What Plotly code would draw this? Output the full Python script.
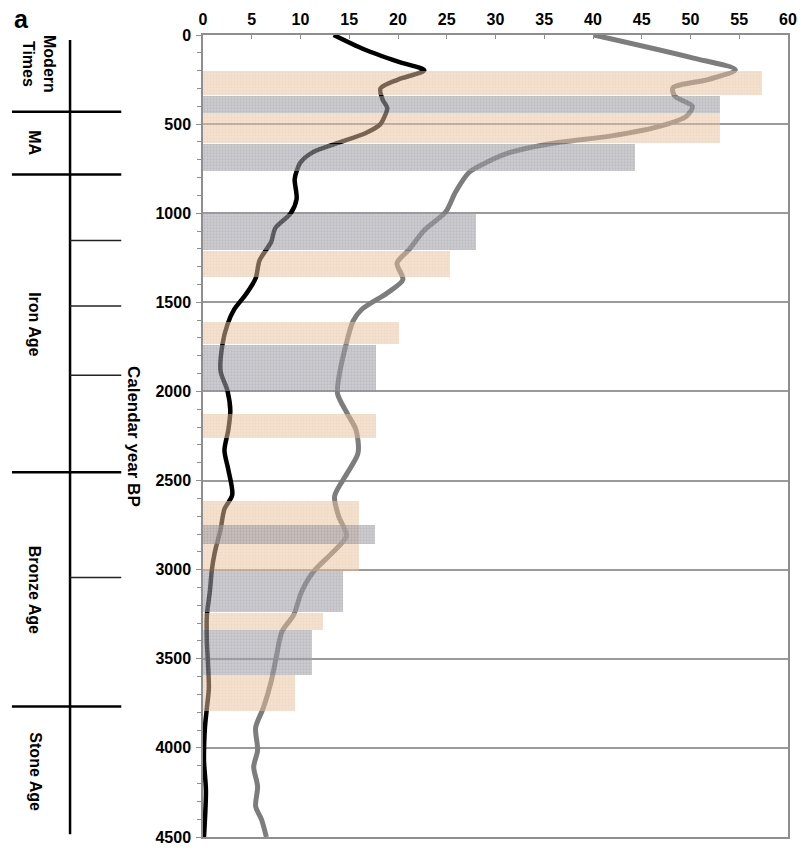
import plotly.graph_objects as go

# ---- data -------------------------------------------------------------
# black curve: value vs calendar year BP
black_years = [0, 80, 150, 198, 250, 300, 360, 410, 460, 500, 550, 610, 660, 715, 765,
               810, 920, 1000, 1085, 1160, 1265, 1365, 1455, 1540, 1625, 1735, 1885,
               1995, 2105, 2215, 2330, 2440, 2580, 2660, 2775, 2905, 3005, 3125, 3255,
               3405, 3515, 3665, 3775, 3885, 4070, 4240, 4500]
black_vals = [13.4, 16.5, 20.0, 22.7, 20.0, 18.2, 18.4, 18.9, 18.6, 18.2, 16.7, 13.6, 11.2,
              10.0, 9.6, 9.4, 9.6, 9.0, 7.4, 7.0, 5.8, 5.4, 4.4, 3.2, 2.5, 2.0, 1.8, 2.5,
              2.8, 2.6, 2.2, 2.6, 3.0, 2.2, 1.8, 1.2, 0.9, 0.7, 0.4, 0.4, 0.5, 0.6, 0.4,
              0.2, 0.1, 0.3, 0.1]

# grey curve: value vs calendar year BP
grey_years = [0, 128, 195, 250, 297, 344, 400, 455, 510, 566, 607, 659, 714, 770, 881, 992,
              1095, 1206, 1280, 1373, 1447, 1539, 1604, 1753, 1902, 2013, 2124, 2217, 2346,
              2458, 2587, 2699, 2810, 2903, 3013, 3125, 3254, 3347, 3495, 3625, 3774, 3885,
              4014, 4106, 4217, 4328, 4402, 4500]
grey_vals = [40.1, 50.2, 54.6, 51.8, 48.2, 48.4, 50.2, 49.6, 47.0, 41.9, 35.9, 31.5, 29.1,
             27.3, 25.9, 24.9, 22.7, 21.1, 19.9, 20.5, 18.9, 16.3, 15.4, 14.6, 14.0, 13.8,
             14.8, 15.7, 15.9, 14.8, 13.5, 13.9, 14.7, 13.3, 11.3, 10.1, 9.3, 8.1, 7.5, 7.0,
             6.2, 5.4, 5.6, 5.2, 5.6, 5.4, 6.0, 6.5]

# tan interval bars: start year, end year, value
tan_start = [200, 435, 1210, 1610, 2125, 2615, 3245, 3590]
tan_end = [335, 605, 1360, 1735, 2260, 3005, 3340, 3795]
tan_vals = [57.3, 53.0, 25.3, 20.1, 17.7, 16.0, 12.3, 9.4]

# grey interval bars: start year, end year, value
gry_start = [340, 610, 1005, 1740, 2750, 3005, 3340]
gry_end = [435, 765, 1205, 1995, 2855, 3240, 3590]
gry_vals = [53.0, 44.3, 28.0, 17.7, 17.6, 14.4, 11.2]

# archaeological periods
major_bounds = [430, 783, 2454, 3768]
minor_bounds = [1153, 1520, 1909, 3044]
period_names = ["Modern<br>Times", "MA", "Iron Age", "Bronze Age", "Stone Age"]
period_label_years = [160, 605, 1620, 3110, 4135]

x_ticks = list(range(0, 61, 5))
y_ticks = list(range(0, 4501, 500))

# ---- figure -------------------------------------------------------------
W, H = 806, 855
ML, MR, MT, MB = 203, 9, 35, 12
PW = W - ML - MR


def px_to_paper_x(px):
    return (px - ML) / PW


FONT = "Liberation Sans, Arial, sans-serif"
AXIS_GREY = "#8e8e8e"

fig = go.Figure()

fig.add_trace(go.Scatter(
    x=grey_vals, y=grey_years, mode="lines",
    line=dict(color="#7d7d7d", width=5, shape="spline", smoothing=0.8),
    xaxis="x", yaxis="y", hoverinfo="skip", showlegend=False))
fig.add_trace(go.Scatter(
    x=black_vals, y=black_years, mode="lines",
    line=dict(color="#000000", width=4.5, shape="spline", smoothing=0.8),
    xaxis="x", yaxis="y", hoverinfo="skip", showlegend=False))

# bars sit on an overlaid axis so they are painted over the curves
tan_c = [(s + e) / 2 for s, e in zip(tan_start, tan_end)]
tan_w = [e - s for s, e in zip(tan_start, tan_end)]
gry_c = [(s + e) / 2 for s, e in zip(gry_start, gry_end)]
gry_w = [e - s for s, e in zip(gry_start, gry_end)]

fig.add_trace(go.Bar(
    orientation="h", y=tan_c, x=tan_vals, width=tan_w, base=0,
    marker=dict(color="rgb(231,192,154)", opacity=0.52, line=dict(width=0),
                pattern=dict(shape=".", size=3, solidity=0.35,
                             fgcolor="rgb(212,170,128)", bgcolor="rgb(233,196,160)")),
    xaxis="x", yaxis="y2", hoverinfo="skip", showlegend=False))
fig.add_trace(go.Bar(
    orientation="h", y=gry_c, x=gry_vals, width=gry_w, base=0,
    marker=dict(color="rgb(150,150,160)", opacity=0.58, line=dict(width=0),
                pattern=dict(shape=".", size=3, solidity=0.45,
                             fgcolor="rgb(110,110,118)", bgcolor="rgb(168,168,178)")),
    xaxis="x", yaxis="y2", hoverinfo="skip", showlegend=False))

# period column
shapes = []
x_vert = px_to_paper_x(68)
x_long0 = px_to_paper_x(9)
x_end = px_to_paper_x(120)
shapes.append(dict(type="line", xref="paper", yref="y", x0=x_vert, x1=x_vert,
                   y0=28, y1=4485, line=dict(color="black", width=2.5)))
for b in major_bounds:
    shapes.append(dict(type="line", xref="paper", yref="y", x0=x_long0, x1=x_end,
                       y0=b, y1=b, line=dict(color="black", width=2.5)))
for b in minor_bounds:
    shapes.append(dict(type="line", xref="paper", yref="y", x0=x_vert, x1=x_end,
                       y0=b, y1=b, line=dict(color="#222222", width=1.5)))

annotations = []
for name, yr in zip(period_names, period_label_years):
    xc = 37 if "<br>" in name else 32
    annotations.append(dict(
        text=name, xref="paper", yref="y", x=px_to_paper_x(xc), y=yr,
        textangle=90, showarrow=False, xanchor="center", yanchor="middle",
        font=dict(family=FONT, size=16, color="black", weight="bold")))

annotations.append(dict(
    text="Calendar year BP", xref="paper", yref="paper", x=px_to_paper_x(133), y=0.5,
    textangle=90, showarrow=False, xanchor="center", yanchor="middle",
    font=dict(family=FONT, size=17, color="black", weight="bold")))
annotations.append(dict(
    text="a", xref="paper", yref="paper", x=px_to_paper_x(9), y=(H - MB - 17 - MT) / (H - MT - MB) + 0 * 0,
    showarrow=False, xanchor="left", yanchor="middle",
    font=dict(family=FONT, size=25, color="black", weight="bold")))

tickfont = dict(family=FONT, size=16, color="black", weight="bold")

fig.update_layout(
    width=W, height=H,
    margin=dict(l=ML, r=MR, t=MT, b=MB, pad=0),
    paper_bgcolor="white", plot_bgcolor="white",
    barmode="overlay", bargap=0,
    showlegend=False,
    shapes=shapes, annotations=annotations,
    xaxis=dict(side="top", range=[0, 60], tickmode="array", tickvals=x_ticks,
               showline=True, linecolor=AXIS_GREY, linewidth=1.5, mirror=True,
               ticks="inside", ticklen=4, tickcolor=AXIS_GREY, tickwidth=1,
               showgrid=False, zeroline=False, tickfont=tickfont, ticklabelstandoff=2),
    yaxis=dict(range=[4500, 0], tickmode="array", tickvals=y_ticks,
               showline=True, linecolor=AXIS_GREY, linewidth=1.5, mirror=True,
               ticks="outside", ticklen=5, tickcolor=AXIS_GREY, tickwidth=1,
               minor=dict(dtick=100, ticks="outside", ticklen=4, tickcolor=AXIS_GREY,
                          showgrid=False),
               showgrid=True, gridcolor="#9a9a9a", gridwidth=1.5,
               zeroline=False, tickfont=tickfont, ticklabelstandoff=2),
    yaxis2=dict(overlaying="y", range=[4500, 0], visible=False, showgrid=False),
)

# fix "a" position in paper coordinates: glyph centre ~19 px from the top
fig.layout.annotations[-1].y = (H - MB - 19) / (H - MT - MB)

fig.write_html("out.html")
